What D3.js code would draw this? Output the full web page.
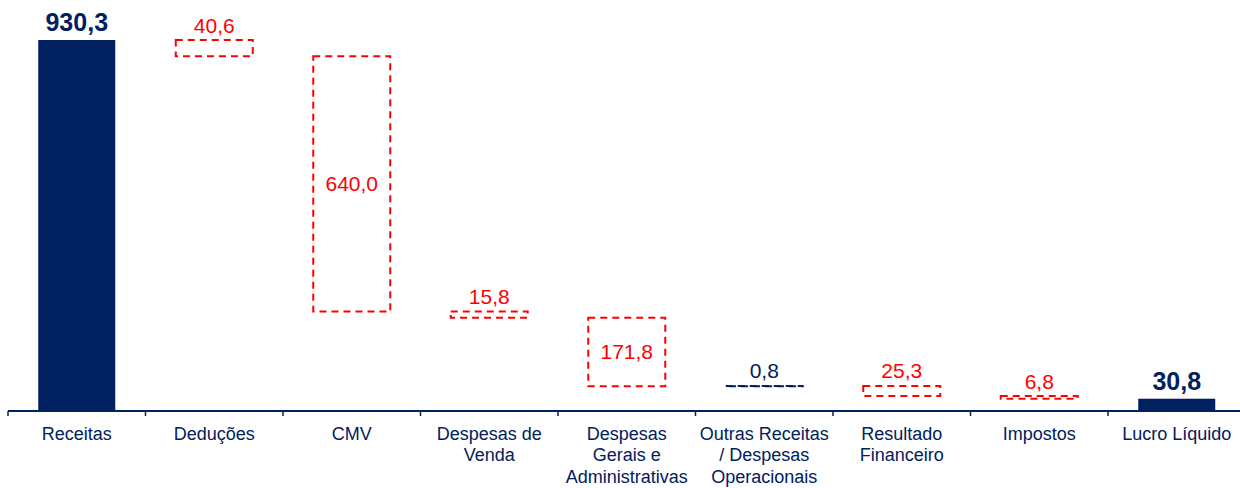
<!DOCTYPE html>
<html>
<head>
<meta charset="utf-8">
<script src="https://cdn.jsdelivr.net/npm/d3@7"></script>
<style>
  html, body { margin: 0; padding: 0; background: #fff; }
  svg { display: block; font-family: "Liberation Sans", Arial, sans-serif; }
</style>
</head>
<body>
<svg id="chart" width="1240" height="488"></svg>
<script>
// Demonstração de resultado em cascata (R$ milhões)
const categories = [
  "Receitas", "Deduções", "CMV", "Despesas de Venda",
  "Despesas Gerais e Administrativas",
  "Outras Receitas / Despesas Operacionais",
  "Resultado Financeiro", "Impostos", "Lucro Líquido"
];
const values = [930.3, -40.6, -640.0, -15.8, -171.8, 0.8, -25.3, -6.8, 30.8];
const kinds = ["total", "delta", "delta", "delta", "delta", "delta", "delta", "delta", "total"];

const NAVY = "#002060";
const RED = "#FF0000";

const width = 1240, height = 488;
const svg = d3.select("#chart");

const fmt = d3.formatLocale({ decimal: ",", thousands: ".", grouping: [3], currency: ["R$", ""] }).format(".1f");

// Running totals give each floating step its start and end
let running = 0;
const rows = categories.map((c, i) => {
  const v = values[i];
  let y0, y1;
  if (kinds[i] === "total") { y0 = 0; y1 = v; running = v; }
  else { y0 = running; y1 = running + v; running = y1; }
  return { cat: c, value: v, kind: kinds[i], lo: Math.min(y0, y1), hi: Math.max(y0, y1) };
});

const x = d3.scaleBand().domain(categories).range([8, 1245.5]).paddingInner(0).paddingOuter(0);
const y = d3.scaleLinear().domain([0, 930.3]).range([411, 40]);
const barW = x.bandwidth() * 0.56;
const cx = d => x(d.cat) + x.bandwidth() / 2;

// Axis along the baseline with ticks at category boundaries
const axisG = svg.append("g");
axisG.append("line")
  .attr("x1", 8).attr("x2", width)
  .attr("y1", y(0)).attr("y2", y(0))
  .attr("stroke", NAVY).attr("stroke-width", 2);
const bounds = categories.map(c => x(c)).concat([x.range()[1]]);
axisG.selectAll("line.tick").data(bounds).join("line")
  .attr("class", "tick")
  .attr("x1", d => d).attr("x2", d => d)
  .attr("y1", y(0)).attr("y2", y(0) + 5)
  .attr("stroke", NAVY).attr("stroke-width", 1.5);

// Solid totals
svg.selectAll("rect.total").data(rows.filter(d => d.kind === "total")).join("rect")
  .attr("class", "total")
  .attr("x", d => cx(d) - barW / 2)
  .attr("width", barW)
  .attr("y", d => y(d.hi))
  .attr("height", d => y(d.lo) - y(d.hi))
  .attr("fill", NAVY);

// Dashed floating steps
svg.selectAll("rect.delta").data(rows.filter(d => d.kind === "delta")).join("rect")
  .attr("class", "delta")
  .attr("x", d => cx(d) - barW / 2)
  .attr("width", barW)
  .attr("y", d => y(d.hi))
  .attr("height", d => Math.max(0.3, y(d.lo) - y(d.hi)))
  .attr("fill", "none")
  .attr("stroke", d => d.value < 0 ? RED : NAVY)
  .attr("stroke-width", 2)
  .attr("stroke-dasharray", "7,5");

// Value labels: inside tall steps, above everything else
svg.selectAll("text.val").data(rows).join("text")
  .attr("class", "val")
  .attr("text-anchor", "middle")
  .attr("x", d => cx(d))
  .attr("y", d => {
    const h = y(d.lo) - y(d.hi);
    if (d.kind === "delta" && h > 40) return (y(d.lo) + y(d.hi)) / 2 + 7.5;
    return y(d.hi) - (d.kind === "total" ? 9 : 7.5);
  })
  .attr("font-size", d => d.kind === "total" ? 25 : 21)
  .attr("font-weight", d => d.kind === "total" ? "bold" : "normal")
  .attr("fill", d => d.kind === "total" || d.value >= 0 ? NAVY : RED)
  .text(d => fmt(Math.abs(d.value)));

// Category labels, wrapped to the band width
const lineH = 21.3;
const maxW = 132;
const labels = svg.selectAll("text.cat").data(categories).join("text")
  .attr("class", "cat")
  .attr("text-anchor", "middle")
  .attr("font-size", 18)
  .attr("fill", NAVY)
  .attr("x", d => x(d) + x.bandwidth() / 2)
  .attr("y", 440);

labels.each(function(d) {
  const t = d3.select(this);
  const words = d.split(" ");
  const lines = [];
  let cur = [];
  const probe = t.append("tspan");
  words.forEach(w => {
    const test = cur.concat([w]).join(" ");
    probe.text(test);
    if (probe.node().getComputedTextLength() > maxW && cur.length) {
      lines.push(cur.join(" "));
      cur = [w];
    } else {
      cur.push(w);
    }
  });
  lines.push(cur.join(" "));
  probe.remove();
  const xc = x(d) + x.bandwidth() / 2;
  lines.forEach((l, i) => {
    t.append("tspan").attr("x", xc).attr("y", 440 + i * lineH).text(l);
  });
});
</script>
</body>
</html>
